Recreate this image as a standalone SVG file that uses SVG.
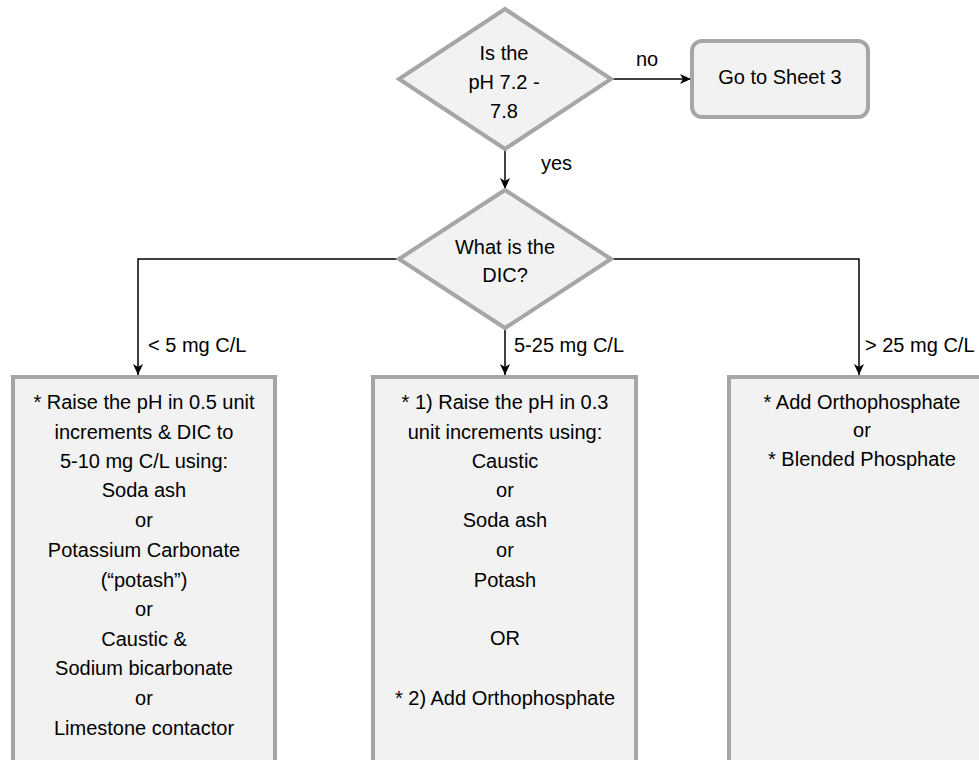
<svg xmlns="http://www.w3.org/2000/svg" width="979" height="760" viewBox="0 0 979 760">
  <style>
    .shape { fill: #f2f2f2; stroke: #a6a6a6; stroke-width: 4; }
    .wire { fill: none; stroke: #000; stroke-width: 1.5; }
    text { font-family: "Liberation Sans", Arial, sans-serif; font-size: 20px; fill: #000; }
    .c { text-anchor: middle; }
  </style>
  <defs>
    <marker id="arrow" viewBox="0 0 12 12" refX="11" refY="6" markerWidth="12" markerHeight="12" markerUnits="userSpaceOnUse" orient="auto">
      <path d="M0,1 L11,6 L0,11 L3,6 Z" fill="#000"/>
    </marker>
  </defs>
  <rect width="979" height="760" fill="#fff"/>

  <g id="connectors">
    <line class="wire" x1="611" y1="79" x2="691" y2="79" marker-end="url(#arrow)"/>
    <line class="wire" x1="505" y1="150" x2="505" y2="189" marker-end="url(#arrow)"/>
    <polyline class="wire" points="397,259 138,259 138,375" marker-end="url(#arrow)"/>
    <line class="wire" x1="505" y1="329" x2="505" y2="375" marker-end="url(#arrow)"/>
    <polyline class="wire" points="611,259 859,259 859,375" marker-end="url(#arrow)"/>
    <text x="647" y="66" class="c">no</text>
    <text x="541" y="170">yes</text>
    <text x="148" y="352">&lt; 5 mg C/L</text>
    <text x="514" y="352">5-25 mg C/L</text>
    <text x="865" y="352">&gt; 25 mg C/L</text>
  </g>

  <g id="ph-check">
    <polygon class="shape" points="505,9 611,79 505,149 399,79"/>
    <text x="504" y="60" class="c">Is the</text>
    <text x="504" y="89" class="c">pH 7.2 -</text>
    <text x="504" y="118" class="c">7.8</text>
  </g>

  <g id="sheet3">
    <rect class="shape" x="692" y="41" width="176" height="76" rx="10" ry="10"/>
    <text x="780" y="84" class="c">Go to Sheet 3</text>
  </g>

  <g id="dic-check">
    <polygon class="shape" points="505,190 611,259 505,328 399,259"/>
    <text x="505" y="254" class="c">What is the</text>
    <text x="505" y="282" class="c">DIC?</text>
  </g>

  <g id="low-dic">
    <rect class="shape" x="13" y="377" width="262" height="400"/>
    <text x="144" y="409" class="c">* Raise the pH in 0.5 unit</text>
    <text x="144" y="439" class="c">increments &amp; DIC to</text>
    <text x="144" y="468" class="c">5-10 mg C/L using:</text>
    <text x="144" y="497" class="c">Soda ash</text>
    <text x="144" y="527" class="c">or</text>
    <text x="144" y="557" class="c">Potassium Carbonate</text>
    <text x="144" y="587" class="c">(“potash”)</text>
    <text x="144" y="616" class="c">or</text>
    <text x="144" y="646" class="c">Caustic &amp;</text>
    <text x="144" y="675" class="c">Sodium bicarbonate</text>
    <text x="144" y="705" class="c">or</text>
    <text x="144" y="735" class="c">Limestone contactor</text>
  </g>

  <g id="mid-dic">
    <rect class="shape" x="373" y="377" width="263" height="400"/>
    <text x="505" y="409" class="c">* 1) Raise the pH in 0.3</text>
    <text x="505" y="439" class="c">unit increments using:</text>
    <text x="505" y="468" class="c">Caustic</text>
    <text x="505" y="497" class="c">or</text>
    <text x="505" y="527" class="c">Soda ash</text>
    <text x="505" y="557" class="c">or</text>
    <text x="505" y="587" class="c">Potash</text>
    <text x="505" y="645" class="c">OR</text>
    <text x="505" y="705" class="c">* 2) Add Orthophosphate</text>
  </g>

  <g id="high-dic">
    <rect class="shape" x="729" y="377" width="263" height="400"/>
    <text x="862" y="409" class="c">* Add Orthophosphate</text>
    <text x="862" y="437" class="c">or</text>
    <text x="862" y="466" class="c">* Blended Phosphate</text>
  </g>
</svg>
